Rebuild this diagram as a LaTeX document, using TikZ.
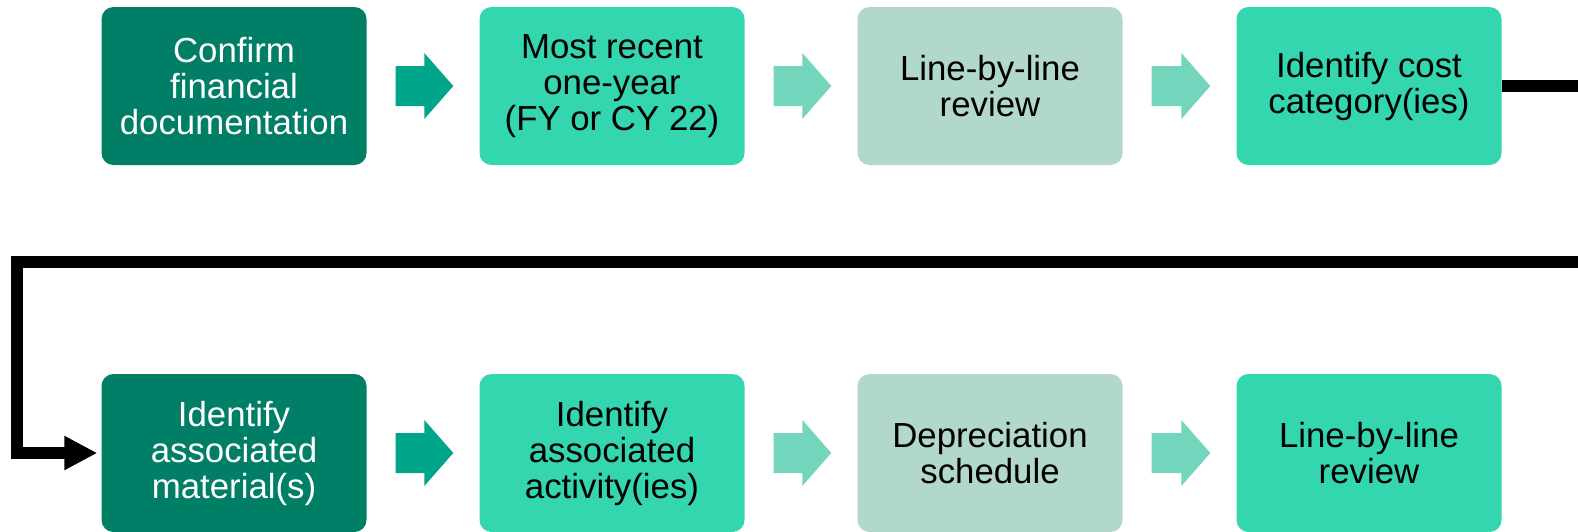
\documentclass[tikz,border=0pt]{standalone}
\usepackage{fontspec}
\setmainfont{Liberation Sans}
\usetikzlibrary{arrows.meta,calc}

\definecolor{deepgreen}{RGB}{0,126,102}
\definecolor{brightteal}{RGB}{51,214,174}
\definecolor{palegreen}{RGB}{178,216,204}
\definecolor{arrowdark}{RGB}{0,166,137}
\definecolor{arrowlight}{RGB}{115,213,187}

% block arrow drawn in the gap between two boxes
\newcommand\blockarrow[3]{%
  \path ($(#1.east)+(29,0)$) coordinate (bs) ($(#2.west)+(-26,0)$) coordinate (bt);
  \fill[#3] ($(bs)+(0,-20)$) -- ($(bt)+(-29,-20)$) -- ($(bt)+(-29,-33)$) -- (bt)
    -- ($(bt)+(-29,33)$) -- ($(bt)+(-29,20)$) -- ($(bs)+(0,20)$) -- cycle;
}

\begin{document}
\begin{tikzpicture}[x=1pt,y=-1pt,
  stepbox/.style={rounded corners=12pt, minimum width=265pt, minimum height=158pt,
    inner sep=0pt, align=center, font=\fontsize{34.8}{36}\selectfont},
  darkbox/.style={stepbox, fill=deepgreen, text=white},
  tealbox/.style={stepbox, fill=brightteal, text=black},
  palebox/.style={stepbox, fill=palegreen, text=black},
  flowline/.style={line width=11.5pt, line join=miter, -{Triangle[length=33pt,width=32pt]}}]
\useasboundingbox (0,0) rectangle (1578,531);
\clip (0,0) rectangle (1578,531);

% first row
\node[darkbox] (b1) at (234,86) {Confirm\\financial\\documentation};
\node[tealbox] (b2) at (612,86) {Most recent\\one-year\\(FY or CY 22)};
\node[palebox] (b3) at (990,86) {Line-by-line\\review};
\node[tealbox] (b4) at (1369,86) {Identify cost\\category(ies)};

% second row
\node[darkbox] (b5) at (234,453) {Identify\\associated\\material(s)};
\node[tealbox] (b6) at (612,453) {Identify\\associated\\activity(ies)};
\node[palebox] (b7) at (990,453) {Depreciation\\schedule};
\node[tealbox] (b8) at (1369,453) {Line-by-line\\review};

% block arrows between boxes
\blockarrow{b1}{b2}{arrowdark}
\blockarrow{b2}{b3}{arrowlight}
\blockarrow{b3}{b4}{arrowlight}
\blockarrow{b5}{b6}{arrowdark}
\blockarrow{b6}{b7}{arrowlight}
\blockarrow{b7}{b8}{arrowlight}

% return line from the end of the first row to the start of the second
\coordinate (turnR) at (1600,262);
\coordinate (turnL) at (17,262);
\draw[flowline] (b4.east) -| (turnR) -- (turnL) |- ($(b5.west)+(-4,0)$);
\end{tikzpicture}
\end{document}
